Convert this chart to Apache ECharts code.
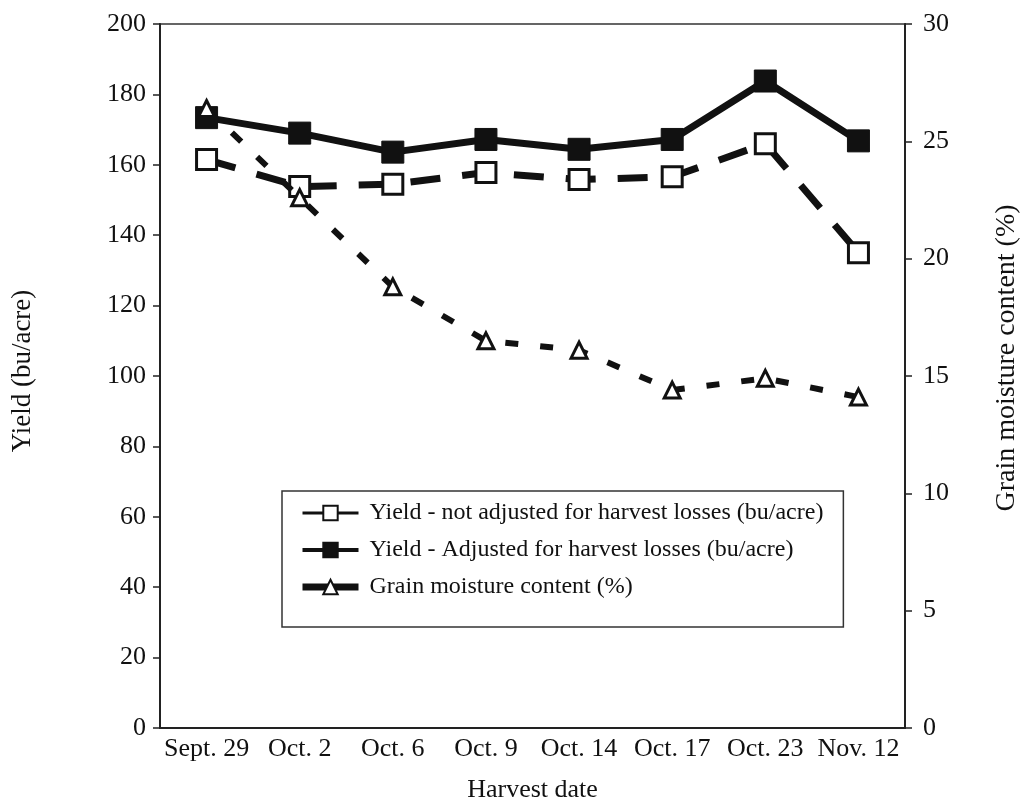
<!DOCTYPE html>
<html>
<head>
<meta charset="utf-8">
<script src="https://cdn.jsdelivr.net/npm/echarts@6/dist/echarts.min.js"></script>
<style>
  html, body { margin: 0; padding: 0; background: #fff; }
  #chart { width: 1021px; height: 806px; }
</style>
</head>
<body>
<div id="chart"></div>
<script>
// harvest dates on the x axis
const harvestDates = ['Sept. 29', 'Oct. 2', 'Oct. 6', 'Oct. 9', 'Oct. 14', 'Oct. 17', 'Oct. 23', 'Nov. 12']
// yield, bu/acre
const yieldNotAdjusted = [161.5, 153.8, 154.5, 157.8, 155.8, 156.6, 166, 135]
const yieldAdjusted = [173.4, 169, 163.6, 167.2, 164.4, 167.2, 183.8, 166.8]
// grain moisture, %
const moisture = [26.4, 22.6, 18.8, 16.5, 16.1, 14.4, 14.9, 14.1]

const serif = 'Liberation Serif, Times New Roman, serif'
const fs = 26

const chart = echarts.init(document.getElementById('chart'))

chart.setOption({
    backgroundColor: '#fff',
    animation: false,
    textStyle: { fontFamily: serif, color: '#111' },
    grid: {
        left: 160, right: 116, top: 24, bottom: 78,
        outerBoundsMode: 'none',
        containLabel: false,
        show: true, borderColor: '#333', borderWidth: 1.5
    },
    legend: {
        orient: 'vertical',
        left: 282, top: 491,
        padding: [10, 20, 28, 17],
        itemGap: 13,
        itemWidth: 56,
        itemHeight: 18,
        borderColor: '#333',
        borderWidth: 1.5,
        textStyle: { fontSize: 24, fontFamily: serif, color: '#111', padding: [0, 0, 0, 6] },
        data: [
            { name: 'Yield - not adjusted for harvest losses (bu/acre)', lineStyle: { type: 'solid', width: 3 } },
            { name: 'Yield - Adjusted for harvest losses (bu/acre)', lineStyle: { type: 'solid', width: 4 } },
            { name: 'Grain moisture content (%)', lineStyle: { type: 'solid', width: 7 } }
        ]
    },
    xAxis: {
        type: 'category',
        data: harvestDates,
        boundaryGap: true,
        name: 'Harvest date',
        nameLocation: 'middle',
        nameGap: 49,
        nameTextStyle: { fontSize: fs, fontFamily: serif, color: '#111' },
        axisLine: { lineStyle: { color: '#222', width: 2 } },
        axisTick: { length: 7, lineStyle: { color: '#222', width: 1.5 } },
        axisLabel: { fontSize: fs, fontFamily: serif, color: '#111', margin: 8, interval: 0 }
    },
    yAxis: [
        {
            type: 'value',
            min: 0, max: 200, interval: 20,
            name: 'Yield (bu/acre)',
            nameLocation: 'middle',
            nameGap: 124,
            nameTextStyle: { fontSize: 27, fontFamily: serif, color: '#111', padding: [0, 0, 0, 10] },
            axisLine: { show: true, lineStyle: { color: '#222', width: 2 } },
            axisTick: { show: true, length: 7, lineStyle: { color: '#222', width: 1.5 } },
            axisLabel: { fontSize: fs, fontFamily: serif, color: '#111', margin: 14 },
            splitLine: { show: false }
        },
        {
            type: 'value',
            min: 0, max: 30, interval: 5,
            name: 'Grain moisture content (%)',
            nameLocation: 'middle',
            nameGap: 88,
            nameTextStyle: { fontSize: 28, fontFamily: serif, color: '#111', padding: [0, 0, 0, 36] },
            axisLine: { show: true, lineStyle: { color: '#222', width: 2 } },
            axisTick: { show: true, length: 7, lineStyle: { color: '#222', width: 1.5 } },
            axisLabel: { fontSize: fs, fontFamily: serif, color: '#111', margin: 18 },
            splitLine: { show: false }
        }
    ],
    series: [
        {
            name: 'Yield - not adjusted for harvest losses (bu/acre)',
            type: 'line',
            yAxisIndex: 0,
            data: yieldNotAdjusted,
            symbol: 'rect',
            symbolSize: 20,
            showAllSymbol: true,
            itemStyle: { color: '#fff', borderColor: '#111', borderWidth: 3 },
            lineStyle: { color: '#111', width: 7, type: [30, 22] },
            z: 3
        },
        {
            name: 'Yield - Adjusted for harvest losses (bu/acre)',
            type: 'line',
            yAxisIndex: 0,
            data: yieldAdjusted,
            symbol: 'rect',
            symbolSize: 22,
            showAllSymbol: true,
            itemStyle: { color: '#111', borderColor: '#111', borderWidth: 1 },
            lineStyle: { color: '#111', width: 7, type: 'solid' },
            z: 4
        },
        {
            name: 'Grain moisture content (%)',
            type: 'line',
            yAxisIndex: 1,
            data: moisture,
            symbol: 'triangle',
            symbolSize: 16,
            showAllSymbol: true,
            itemStyle: { color: '#fff', borderColor: '#111', borderWidth: 3 },
            lineStyle: { color: '#111', width: 6, type: [13, 22] },
            z: 5
        }
    ]
})
</script>
</body>
</html>
